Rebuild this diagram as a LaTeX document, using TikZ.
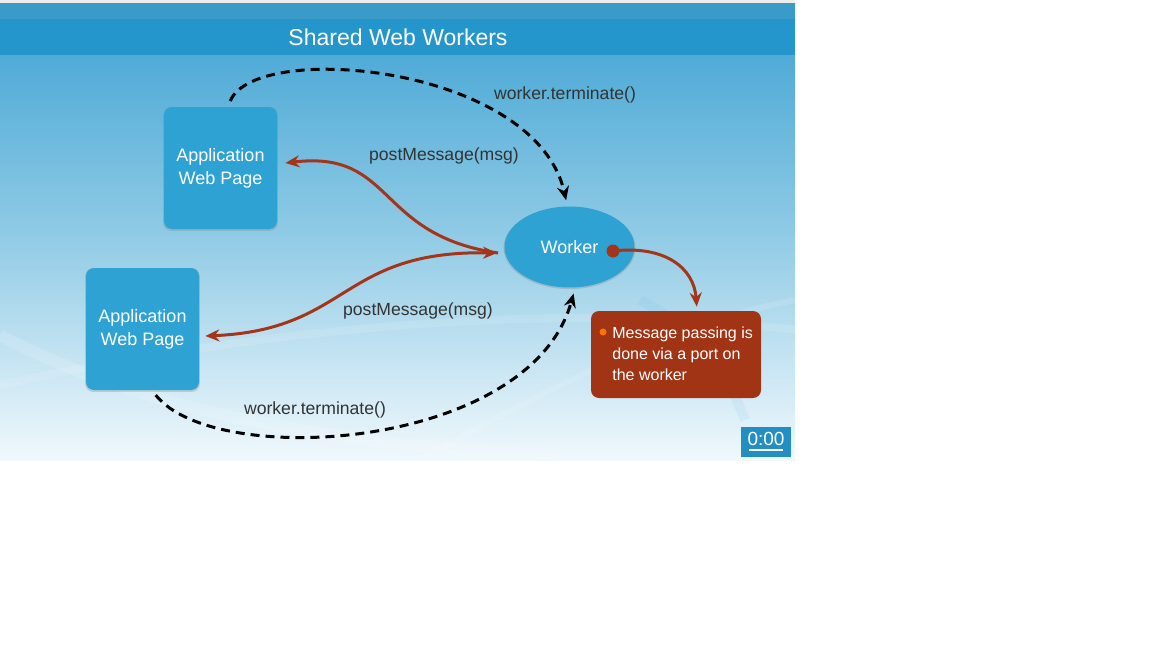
\documentclass[tikz,border=0pt]{standalone}
\usepackage{fontspec}
\setmainfont{Liberation Sans}
\usetikzlibrary{arrows.meta, shapes.geometric, shadows}
\definecolor{slidetop}{HTML}{3DA2D3}
\definecolor{slidemid}{HTML}{8FCAE5}
\definecolor{slidebottom}{HTML}{F0F8FC}
\definecolor{bandcolor}{HTML}{2596CC}
\definecolor{boxcolor}{HTML}{2FA2D4}
\definecolor{msgcolor}{HTML}{A3361A}
\definecolor{notecolor}{HTML}{A03414}
\definecolor{textcolor}{HTML}{333333}
\def\boxwidth{56.5pt}
\def\boxheight{61pt}
\def\boxradius{4pt}
\def\connwidth{1.5pt}
\def\shortenlen{3pt}
\tikzset{
	% pages and worker
	page/.style={
		shape=rectangle,
		fill=boxcolor,
		rounded corners=\boxradius,
		minimum width=\boxwidth,
		minimum height=\boxheight,
		text=white,
		font=\fontsize{9}{11.5}\selectfont,
		align=center,
		drop shadow={shadow xshift=0pt, shadow yshift=-0.5pt, shadow scale=1.015, opacity=0.3},
	},
	workerblob/.style={
		shape=ellipse,
		fill=boxcolor,
		minimum width=65pt,
		minimum height=40.5pt,
		inner sep=0pt,
		text=white,
		font=\fontsize{9}{11}\selectfont,
		drop shadow={shadow xshift=0pt, shadow yshift=-0.5pt, shadow scale=1.015, opacity=0.3},
	},
	% labels
	tag/.style={
		text=textcolor,
		font=\fontsize{8.8}{11}\selectfont,
		inner sep=0pt,
	},
	% connections
	message/.style={
		draw=msgcolor,
		line width=\connwidth,
		-{Stealth[length=7pt, width=6pt]},
	},
	terminate/.style={
		draw=black,
		line width=\connwidth,
		dash pattern=on 4.5pt off 3pt,
		-{Stealth[length=7pt, width=6pt]},
		shorten >=\shortenlen, shorten <=\shortenlen,
	}
}
\begin{document}
\begin{tikzpicture}[x=0.5pt, y=-0.5pt]
	\useasboundingbox (0,0) rectangle (1152,648);
	% Slide background
	\fill[black!7] (0,0) rectangle (795,461);
	\shade[top color=slidetop, bottom color=slidebottom, middle color=slidemid]
		(0,3) rectangle (795,460);
	\fill[slidetop!95!black] (0,3) rectangle (795,19);
	\fill[bandcolor] (0,19) rectangle (795,55);
	%% swooshes
	\draw[white, opacity=0.15, line width=6pt]
		(0,335) .. controls (120,400) and (300,445) .. (560,455);
	\draw[white, opacity=0.12, line width=4pt]
		(0,385) .. controls (250,330) and (550,300) .. (795,330);
	\draw[white, opacity=0.12, line width=3pt]
		(420,460) .. controls (560,380) and (690,320) .. (795,300);
	\draw[boxcolor, opacity=0.07, line width=5pt]
		(640,300) .. controls (700,330) and (730,380) .. (745,420);

	% Title
	\node[
		text=white,
		font=\fontsize{11.5}{14}\selectfont,
	] (title) at (398,37) {Shared Web Workers};

	% Pages and worker
	\node[
		page
	] (app_top) at (220.5,168) {Application\\Web Page};
	%
	\node[
		page
	] (app_bottom) at (142.5,329) {Application\\Web Page};
	%
	\node[
		workerblob
	] (worker) at (569.5,247) {Worker};
	%
	\node[
		circle,
		fill=msgcolor,
		minimum size=6.5pt,
		inner sep=0pt,
	] (port) at (613,251) {};

	% Note
	\node[
		shape=rectangle,
		fill=notecolor,
		rounded corners=\boxradius,
		minimum width=85pt,
		minimum height=43.5pt,
	] (note) at (676,354.5) {};
	\node[
		text=white,
		font=\fontsize{8}{10.5}\selectfont,
		align=left,
		anchor=west,
		inner sep=0pt,
	] (note_text) at (612,354) {Message passing is\\done via a port on\\the worker};
	\fill[orange!90!red] (603,332) circle (3.5);

	% Timer
	\node[
		shape=rectangle,
		fill=bandcolor!95!black,
		minimum width=25pt,
		minimum height=15pt,
		inner sep=0pt,
	] (timer) at (766,442) {};
	\node[
		text=white,
		font=\fontsize{9.5}{11}\selectfont,
		inner sep=0pt,
	] (timer_text) at (766,438.5) {0:00};
	\fill[white] (749,448.5) rectangle (783,451);

	% Connections
	%% postMessage
	\draw [
		message
	] ([xshift=-3pt, yshift=-3pt]worker.west) .. controls (375,235) and (395,150) ..
	  ([xshift=4pt, yshift=2.5pt]app_top.east);
	\draw [
		message,
		{Stealth[length=7pt, width=6pt]}-{Stealth[length=7pt, width=6pt]}
	] ([xshift=3pt, yshift=-3.5pt]app_bottom.east) .. controls (350,330) and (340,250) ..
	  ([xshift=-3.5pt, yshift=-3pt]worker.west);
	%% terminate
	\draw [
		terminate
	] ([xshift=3.75pt]app_top.north) .. controls (255,40) and (535,65) ..
	  ([xshift=-1pt]worker.north);
	\draw [
		terminate
	] ([xshift=4.75pt]app_bottom.south) .. controls (215,470) and (530,450) ..
	  (worker.-82);
	%% port -> note
	\draw [
		message,
		shorten >=2pt
	] (port.center) .. controls (665,245) and (694,268) ..
	  ([xshift=10.5pt]note.north);

	% Labels
	\node[tag] (terminate_top) at (565,95) {worker.terminate()};
	\node[tag] (post_top) at (444,156) {postMessage(msg)};
	\node[tag] (post_bottom) at (418,311) {postMessage(msg)};
	\node[tag] (terminate_bottom) at (315,410) {worker.terminate()};
\end{tikzpicture}
\end{document}
